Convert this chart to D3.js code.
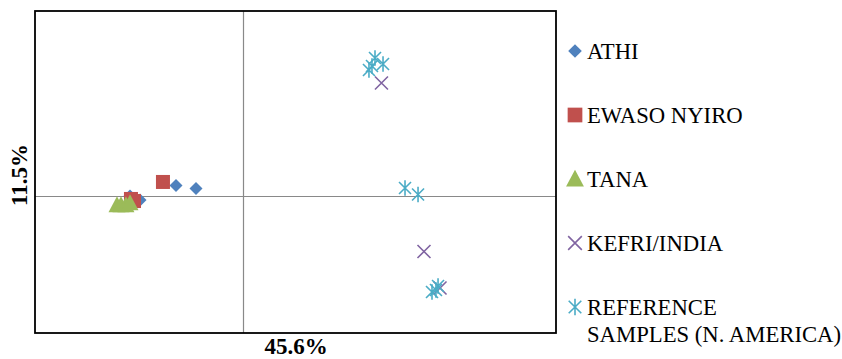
<!DOCTYPE html>
<html>
<head>
<meta charset="utf-8">
<script src="https://cdn.jsdelivr.net/npm/d3@7"></script>
<style>
  html, body { margin: 0; padding: 0; background: #fff; }
  svg { display: block; }
</style>
</head>
<body>
<svg id="chart" width="842" height="359"></svg>
<script>
// PCA scores (PC1 vs PC2) per group
const athiX = [-0.647, -0.455, -1.088, -0.992];
const athiY = [0.118, 0.083, -0.004, -0.051];
const ewasoX = [-0.772, -1.079, -1.050];
const ewasoY = [0.159, -0.039, -0.063];
const tanaX = [-1.213, -1.175, -1.127, -1.088];
const tanaY = [-0.109, -0.109, -0.109, -0.086];
const kefriX = [1.325, 1.733, 1.887];
const kefriY = [1.312, -0.651, -1.076];
const refX = [1.263, 1.340, 1.234, 1.205, 1.551, 1.676, 1.868, 1.810, 1.848];
const refY = [1.603, 1.533, 1.510, 1.463, 0.089, 0.013, -1.053, -1.122, -1.099];

const seriesNames = ["ATHI", "EWASO NYIRO", "TANA", "KEFRI/INDIA", "REFERENCE SAMPLES (N. AMERICA)"];
const xAxisLabel = "45.6%";
const yAxisLabel = "11.5%";

const serif = '"Liberation Serif", "Times New Roman", serif';

const series = [
  { name: seriesNames[0], xs: athiX, ys: athiY, kind: "diamond", color: "#4F81BD" },
  { name: seriesNames[1], xs: ewasoX, ys: ewasoY, kind: "square", color: "#C0504D" },
  { name: seriesNames[2], xs: tanaX, ys: tanaY, kind: "triangle", color: "#9BBB59" },
  { name: seriesNames[3], xs: kefriX, ys: kefriY, kind: "cross", color: "#8064A2" },
  { name: seriesNames[4], xs: refX, ys: refY, kind: "star", color: "#4BACC6" }
];

const svg = d3.select("#chart");
const plot = { left: 35, top: 11, right: 556, bottom: 333 };

const x = d3.scaleLinear().domain([-2, 3]).range([plot.left, plot.right]);
const y = d3.scaleLinear().domain([-1.6, 2.15]).range([plot.bottom, plot.top]);

// zero axes through the origin
svg.append("line")
  .attr("x1", plot.left).attr("x2", plot.right)
  .attr("y1", Math.round(y(0)) + 0.5).attr("y2", Math.round(y(0)) + 0.5)
  .attr("stroke", "#898989").attr("stroke-width", 1.2);
svg.append("line")
  .attr("y1", plot.top).attr("y2", plot.bottom)
  .attr("x1", Math.round(x(0)) + 0.5).attr("x2", Math.round(x(0)) + 0.5)
  .attr("stroke", "#898989").attr("stroke-width", 1.2);

// marker drawing
function drawMarker(g, kind, color, scale) {
  const s = scale || 1;
  if (kind === "diamond") {
    const r = 6.5 * s;
    g.append("path").attr("d", `M0,${-r}L${r},0L0,${r}L${-r},0Z`).attr("fill", color);
  } else if (kind === "square") {
    const r = 7 * s;
    g.append("rect").attr("x", -r).attr("y", -r).attr("width", 2 * r).attr("height", 2 * r).attr("fill", color);
  } else if (kind === "triangle") {
    const w = 8.5 * s, h = 16 * s;
    g.append("path").attr("d", `M0,${-h * 0.55}L${w},${h * 0.45}L${-w},${h * 0.45}Z`).attr("fill", color);
  } else if (kind === "cross") {
    const r = 6.5 * s;
    g.append("path").attr("d", `M${-r},${-r}L${r},${r}M${r},${-r}L${-r},${r}`)
      .attr("stroke", color).attr("stroke-width", 1.6).attr("fill", "none");
  } else if (kind === "star") {
    const r = 6 * s;
    g.append("path").attr("d", `M${-r},${-r}L${r},${r}M${r},${-r}L${-r},${r}M0,${-r * 1.3}L0,${r * 1.3}`)
      .attr("stroke", color).attr("stroke-width", 1.6).attr("fill", "none");
  }
}

series.forEach(s => {
  const pts = s.xs.map((v, i) => [v, s.ys[i]]);
  svg.append("g").selectAll("g").data(pts).join("g")
    .attr("transform", d => `translate(${x(d[0])},${y(d[1])})`)
    .each(function () { drawMarker(d3.select(this), s.kind, s.color, 1); });
});

// plot border
svg.append("rect")
  .attr("x", plot.left).attr("y", plot.top)
  .attr("width", plot.right - plot.left).attr("height", plot.bottom - plot.top)
  .attr("fill", "none").attr("stroke", "#000").attr("stroke-width", 1.8);

// axis titles
svg.append("text")
  .attr("x", 296).attr("y", 354)
  .attr("text-anchor", "middle")
  .style("font-family", serif)
  .style("font-size", "23px").style("font-weight", "bold")
  .text(xAxisLabel);
svg.append("text")
  .attr("transform", "translate(27,175) rotate(-90)")
  .attr("text-anchor", "middle")
  .style("font-family", serif)
  .style("font-size", "23px").style("font-weight", "bold")
  .text(yAxisLabel);

// legend
const legend = svg.append("g");
const rowY = [51, 115, 179, 243, 307];
series.forEach((s, i) => {
  const g = legend.append("g").attr("transform", `translate(575,${rowY[i]})`);
  drawMarker(g, s.kind, s.color, 1.05);
  const t = g.append("text").attr("x", 12).attr("y", 7.5)
    .style("font-family", serif).style("font-size", "22.7px");
  if (i === 4) {
    t.append("tspan").attr("x", 12).text("REFERENCE");
    t.append("tspan").attr("x", 12).attr("dy", 27).text("SAMPLES (N. AMERICA)");
  } else {
    t.text(s.name);
  }
});
</script>
</body>
</html>
